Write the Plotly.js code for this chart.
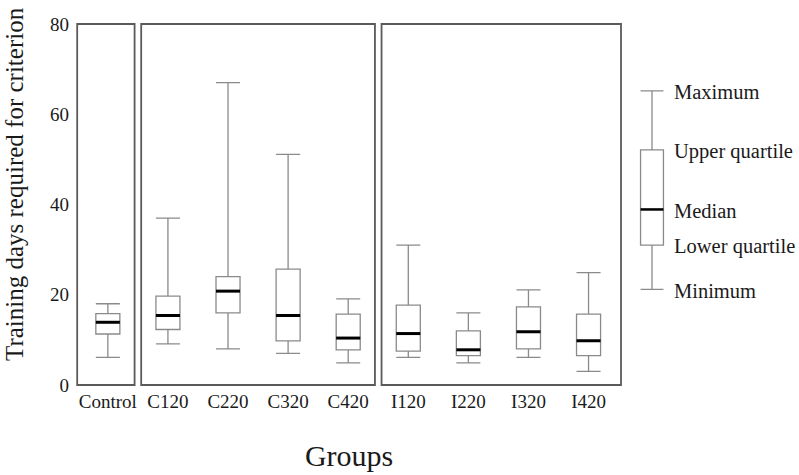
<!DOCTYPE html>
<html>
<head>
<meta charset="utf-8">
<script src="https://cdn.plot.ly/plotly-3.0.1.min.js"></script>
<style>html,body{margin:0;padding:0;background:#fff;}#chart{width:799px;height:475px;}</style>
</head>
<body>
<div id="chart"></div>
<script>
// ---- data ----
var categories = ['Control', 'C120', 'C220', 'C320', 'C420', 'I120', 'I220', 'I320', 'I420'];
var minimum  = [6.1, 9.1, 8.0, 7.0, 4.9, 6.1, 4.9, 6.1, 3.0];
var lowerQ   = [11.3, 12.3, 16.0, 9.8, 7.8, 7.5, 6.5, 8.0, 6.5];
var medianV  = [13.9, 15.4, 20.8, 15.4, 10.4, 11.4, 7.8, 11.8, 9.8];
var upperQ   = [15.8, 19.7, 24.0, 25.7, 15.7, 17.7, 12.0, 17.3, 15.7];
var maximum  = [18.0, 37.0, 67.0, 51.1, 19.1, 31.0, 16.0, 21.1, 24.9];
var yTicks   = [0, 20, 40, 60, 80];
// panels: index ranges of categories grouped in each frame
var panelStart = [0, 1, 5];
var panelEnd   = [0, 4, 8];
// key (explanatory box) values and labels
var keyLabels = ['Maximum', 'Upper quartile', 'Median', 'Lower quartile', 'Minimum'];
var keyValues = [65.2, 52.1, 38.9, 31.0, 21.2];

// ---- build ----
var idx = categories.map(function (c, i) { return i; });
var BW = 0.4;
var FONT = '"Liberation Serif", "Times New Roman", serif';
var boxColor = '#8a8a8a';

var boxTrace = {
  type: 'box', x: idx, q1: lowerQ, median: medianV, q3: upperQ,
  lowerfence: minimum, upperfence: maximum,
  width: BW, whiskerwidth: 1, boxpoints: false,
  fillcolor: '#ffffff', line: { color: boxColor, width: 1.3 },
  xaxis: 'x', yaxis: 'y', hoverinfo: 'skip', showlegend: false
};
var mx = [], my = [];
idx.forEach(function (i) { mx.push(i - BW / 2, i + BW / 2, null); my.push(medianV[i], medianV[i], null); });
var medTrace = { type: 'scatter', mode: 'lines', x: mx, y: my, line: { color: '#000', width: 3 }, hoverinfo: 'skip', showlegend: false };

var keyBox = {
  type: 'box', x: [0], q1: [keyValues[3]], median: [keyValues[2]], q3: [keyValues[1]],
  lowerfence: [keyValues[4]], upperfence: [keyValues[0]],
  width: 0.52, whiskerwidth: 1, boxpoints: false, fillcolor: '#ffffff',
  line: { color: boxColor, width: 1.3 }, xaxis: 'x2', yaxis: 'y', hoverinfo: 'skip', showlegend: false
};
var keyMed = { type: 'scatter', mode: 'lines', x: [-0.26, 0.26], y: [keyValues[2], keyValues[2]],
  line: { color: '#000', width: 2.5 }, xaxis: 'x2', yaxis: 'y', hoverinfo: 'skip', showlegend: false };

var W = 799 - 76; // plotting width in px (margin r = 0)
function px(p) { return (p - 76) / W; }

var xr = [-0.53, 8.56];
var mainRight = px(621 + 1.2);

var shapes = [];
var gap = 0.055;
for (var k = 0; k < panelStart.length; k++) {
  var x0 = k === 0 ? -0.51 : panelStart[k] - 0.5 + gap;
  var x1 = k === panelStart.length - 1 ? 8.54 : panelEnd[k] + 0.5 - gap;
  shapes.push({ type: 'rect', xref: 'x', yref: 'paper', x0: x0, x1: x1, y0: 0, y1: 1,
    line: { color: '#5a5a5a', width: 1.8 }, fillcolor: 'rgba(0,0,0,0)', layer: 'above' });
}

var annotations = keyLabels.map(function (t, i) {
  return { text: t, xref: 'paper', yref: 'y', x: px(672), y: keyValues[i] - 0.3, xanchor: 'left', yanchor: 'middle',
    showarrow: false, font: { family: FONT, size: 20.5, color: '#1a1a1a' } };
});
annotations.push({ text: 'Training days required for criterion', textangle: -90, xref: 'paper', yref: 'paper',
  x: px(14), y: (385 - 184) / 361, xanchor: 'center', yanchor: 'middle', showarrow: false,
  font: { family: FONT, size: 25, color: '#1a1a1a' } });

var layout = {
  width: 799, height: 475,
  margin: { l: 76, r: 0, t: 24, b: 90 },
  paper_bgcolor: '#ffffff', plot_bgcolor: '#ffffff',
  showlegend: false,
  font: { family: FONT, color: '#1a1a1a' },
  xaxis: {
    domain: [0, mainRight], range: xr, tickmode: 'array', tickvals: idx, ticktext: categories,
    showgrid: false, zeroline: false, showline: false, ticks: '',
    tickfont: { family: FONT, size: 19, color: '#1a1a1a' }, ticklabelstandoff: 3,
    title: { text: 'Groups', font: { family: FONT, size: 30, color: '#1a1a1a' }, standoff: 33 }
  },
  xaxis2: { domain: [px(630), px(674)], range: [-0.5, 0.5], anchor: 'y', visible: false },
  yaxis: {
    range: [0, 80], tickmode: 'array', tickvals: yTicks, showgrid: false, zeroline: false, showline: false,
    ticks: '', tickfont: { family: FONT, size: 19, color: '#1a1a1a' }, ticklabelstandoff: 6
  },
  shapes: shapes,
  annotations: annotations
};

Plotly.newPlot('chart', [boxTrace, medTrace, keyBox, keyMed], layout, { staticPlot: true });
</script>
</body>
</html>
